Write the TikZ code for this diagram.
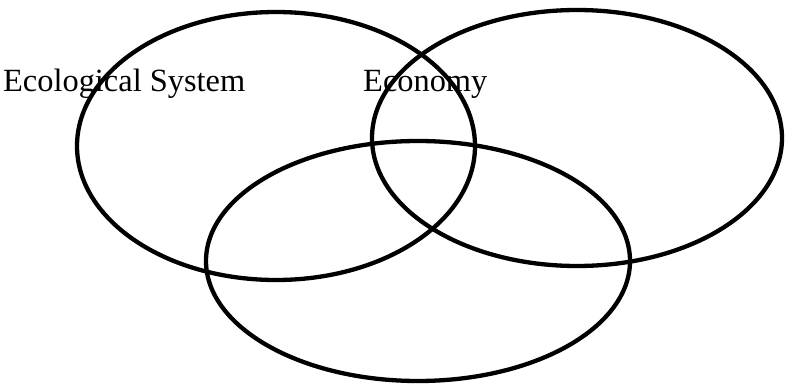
\documentclass[tikz,border=0pt]{standalone}
\usepackage{fontspec}
\setmainfont{Liberation Serif}
\usepackage{tikz}

\begin{document}
\begin{tikzpicture}[x=1pt,y=1pt,
    line cap=round,line join=round,
    setline/.style={line width=4.3pt},
    setlabel/.style={anchor=base west,inner sep=0pt,
      font=\fontsize{32.4}{38}\selectfont}]
    \useasboundingbox (0,0) rectangle (786,391);

    % The three overlapping sets.
    \draw[setline] (276,245) ellipse [x radius=199,y radius=134];
    \draw[setline] (577,253) ellipse [x radius=205,y radius=128];
    \draw[setline] (418,130) ellipse [x radius=212,y radius=120];

    % Set labels.
    \node[setlabel] (ecolabel) at (3,299) {Ecological System};
    \node[setlabel] (econlabel) at (363,299) {Economy};
  \end{tikzpicture}
\end{document}
